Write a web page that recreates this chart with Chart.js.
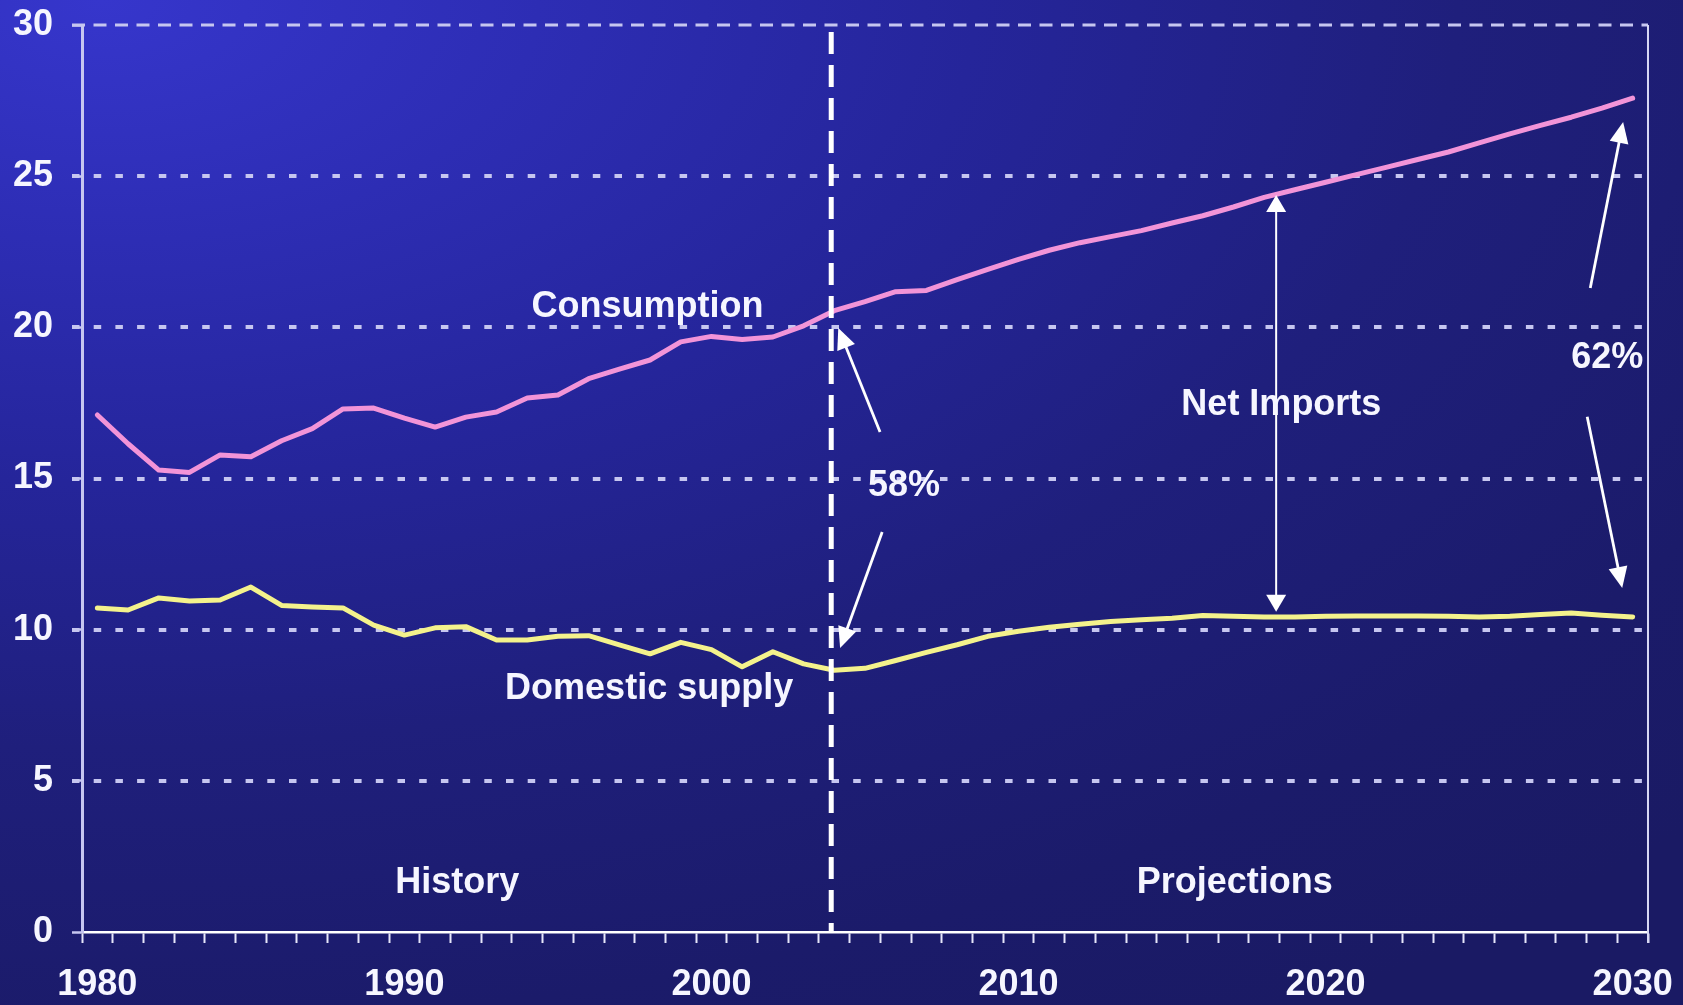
<!DOCTYPE html>
<html><head><meta charset="utf-8">
<script src="https://cdn.jsdelivr.net/npm/chart.js@4.4.0/dist/chart.umd.min.js"></script>
<style>
html,body{margin:0;padding:0;width:1683px;height:1005px;overflow:hidden;}
body{background: radial-gradient(ellipse 130% 120% at 6% 0%, #3636cc 0%, #2d2db4 20%, #25259a 40%, #1f1f7c 62%, #1b1b6a 85%, #1a1a64 100%);}
canvas{display:block;}
</style></head><body>
<canvas id="c" width="1683" height="1005"></canvas>
<script>
// ---- data ----
const years = [1980,1981,1982,1983,1984,1985,1986,1987,1988,1989,
  1990,1991,1992,1993,1994,1995,1996,1997,1998,1999,
  2000,2001,2002,2003,2004,2005,2006,2007,2008,2009,
  2010,2011,2012,2013,2014,2015,2016,2017,2018,2019,
  2020,2021,2022,2023,2024,2025,2026,2027,2028,2029,2030];
const consumption = [17.1,16.15,15.28,15.2,15.78,15.72,16.25,16.65,17.3,17.33,
  17.0,16.7,17.03,17.2,17.66,17.76,18.3,18.62,18.92,19.52,
  19.7,19.6,19.68,20.05,20.55,20.85,21.18,21.22,21.58,21.92,
  22.25,22.55,22.8,23.0,23.2,23.45,23.69,23.98,24.3,24.55,
  24.8,25.05,25.3,25.55,25.8,26.1,26.4,26.68,26.95,27.25,27.58];
const domesticSupply = [10.72,10.65,11.05,10.95,10.98,11.41,10.8,10.75,10.72,10.15,
  9.82,10.06,10.1,9.66,9.66,9.78,9.8,9.5,9.2,9.58,
  9.34,8.77,9.27,8.87,8.66,8.72,8.98,9.25,9.5,9.78,
  9.95,10.08,10.18,10.27,10.33,10.38,10.47,10.44,10.42,10.42,
  10.44,10.45,10.45,10.45,10.44,10.42,10.44,10.5,10.55,10.48,10.42];
const yTickValues = [0,5,10,15,20,25,30];
const xLabelYears = [1980,1990,2000,2010,2020,2030];
const historyEnd = 2003.9;

// annotation anchors in data coordinates (year, value)
const textNotes = [
  {text:'Consumption', at:[1997.92,20.35]},
  {text:'Domestic supply', at:[1997.97,7.71]},
  {text:'Net Imports', at:[2018.56,17.1]},
  {text:'58%', at:[2006.27,14.42]},
  {text:'62%', at:[2029.17,18.66]},
  {text:'History', at:[1991.72,1.29]},
  {text:'Projections', at:[2017.04,1.29]}
];
const arrowNotes = [
  {from:[2005.49,16.54], to:[2004.13,19.98]},
  {from:[2005.56,13.23], to:[2004.19,9.39]},
  {from:[2028.62,21.3], to:[2029.69,26.79]},
  {from:[2028.52,17.04], to:[2029.66,11.38]}
];
const netImportsArrow = {year:2018.39, low:10.59, high:24.38};

const FONT = '"Liberation Sans", Arial, sans-serif';
const TEXT_COLOR = '#f6f6ff';
const GRID_COLOR = '#c6c6f0';

function xPix(chart, yr){ return chart.scales.x.getPixelForValue(yr - years[0]); }
function yPix(chart, v){ return chart.scales.y.getPixelForValue(v); }

function drawHead(ctx, x1, y1, x2, y2, len, half){
  const a = Math.atan2(y2-y1, x2-x1);
  ctx.beginPath();
  ctx.moveTo(x2, y2);
  ctx.lineTo(x2 - len*Math.cos(a) + half*Math.sin(a), y2 - len*Math.sin(a) - half*Math.cos(a));
  ctx.lineTo(x2 - len*Math.cos(a) - half*Math.sin(a), y2 - len*Math.sin(a) + half*Math.cos(a));
  ctx.closePath();
  ctx.fill();
}
function drawArrow(ctx, x1, y1, x2, y2, lw, len, half){
  const a = Math.atan2(y2-y1, x2-x1);
  ctx.lineWidth = lw;
  ctx.beginPath();
  ctx.moveTo(x1, y1);
  ctx.lineTo(x2 - (len-2)*Math.cos(a), y2 - (len-2)*Math.sin(a));
  ctx.stroke();
  drawHead(ctx, x1, y1, x2, y2, len, half);
}

const backPlugin = {
  id:'back',
  beforeDatasetsDraw(chart){
    const ctx = chart.ctx, ca = chart.chartArea;
    ctx.save();
    ctx.strokeStyle = GRID_COLOR;
    // dotted grid lines
    ctx.lineWidth = 4;
    ctx.setLineDash([7.5, 14.2]);
    yTickValues.forEach(v => {
      if (v === 0 || v === 30) return;
      const y = Math.round(yPix(chart, v));
      ctx.beginPath(); ctx.moveTo(ca.left - 10, y); ctx.lineTo(ca.right, y); ctx.stroke();
    });
    // top dashed line
    ctx.lineWidth = 3;
    ctx.setLineDash([13, 8.5]);
    const yt = Math.round(yPix(chart, 30));
    ctx.beginPath(); ctx.moveTo(ca.left - 10, yt); ctx.lineTo(ca.right, yt); ctx.stroke();
    // right border
    ctx.setLineDash([]);
    ctx.lineWidth = 2;
    ctx.strokeStyle = '#d8d8f4';
    ctx.beginPath(); ctx.moveTo(ca.right, yt); ctx.lineTo(ca.right, ca.bottom + 11); ctx.stroke();
    ctx.restore();
  },
  afterDatasetsDraw(chart){
    const ctx = chart.ctx, ca = chart.chartArea;
    ctx.save();
    // history / projections divider
    const xv = xPix(chart, historyEnd);
    ctx.strokeStyle = '#ffffff';
    ctx.lineWidth = 5;
    ctx.setLineDash([22, 11]);
    ctx.beginPath(); ctx.moveTo(xv, ca.top + 7); ctx.lineTo(xv, ca.bottom); ctx.stroke();
    ctx.setLineDash([]);
    // arrows
    ctx.strokeStyle = '#ffffff';
    ctx.fillStyle = '#ffffff';
    arrowNotes.forEach(a => {
      drawArrow(ctx, xPix(chart, a.from[0]), yPix(chart, a.from[1]),
                xPix(chart, a.to[0]), yPix(chart, a.to[1]), 2.8, 21, 9.5);
    });
    const nx = xPix(chart, netImportsArrow.year);
    const ny1 = yPix(chart, netImportsArrow.low), ny2 = yPix(chart, netImportsArrow.high);
    ctx.lineWidth = 2;
    ctx.beginPath(); ctx.moveTo(nx, ny1 - 15); ctx.lineTo(nx, ny2 + 15); ctx.stroke();
    drawHead(ctx, nx, ny1 - 30, nx, ny1, 17, 10);
    drawHead(ctx, nx, ny2 + 30, nx, ny2, 17, 10);
    // texts
    ctx.fillStyle = TEXT_COLOR;
    ctx.font = 'bold 36px ' + FONT;
    ctx.textAlign = 'center';
    ctx.textBaseline = 'alphabetic';
    textNotes.forEach(t => {
      ctx.fillText(t.text, xPix(chart, t.at[0]), yPix(chart, t.at[1]));
    });
    ctx.restore();
  }
};

new Chart(document.getElementById('c'), {
  type:'line',
  data:{
    labels: years.map(String),
    datasets:[
      {label:'Consumption', data:consumption, borderColor:'#f294d8', borderWidth:5,
       pointRadius:0, tension:0, borderCapStyle:'round', borderJoinStyle:'round', fill:false},
      {label:'Domestic supply', data:domesticSupply, borderColor:'#f4f28c', borderWidth:5,
       pointRadius:0, tension:0, borderCapStyle:'round', borderJoinStyle:'round', fill:false}
    ]
  },
  options:{
    responsive:false, animation:false, devicePixelRatio:1,
    layout:{padding:{top:25, right:35, left:0, bottom:0}},
    plugins:{legend:{display:false}, tooltip:{enabled:false}},
    scales:{
      x:{
        type:'category', offset:true,
        grid:{display:true, offset:true, drawOnChartArea:false, drawTicks:true,
              tickLength:11, tickColor:'#e6e6fa', tickWidth:2},
        border:{display:true, color:'#ffffff', width:2.5},
        ticks:{autoSkip:false, maxRotation:0, minRotation:0, padding:20, color:TEXT_COLOR,
               font:{family:FONT, size:36, weight:'bold'},
               callback:function(v, i){ const y = years[i]; return xLabelYears.includes(y) ? String(y) : ''; }},
        afterFit(s){ s.height = 73; s.paddingLeft = 0; s.paddingRight = 0; s.paddingTop = 0; s.paddingBottom = 0; }
      },
      y:{
        min:0, max:30,
        afterBuildTicks(s){ s.ticks = yTickValues.map(v => ({value:v})); },
        grid:{display:true, drawOnChartArea:false, drawTicks:true, tickLength:10,
              tickColor:GRID_COLOR, tickWidth:2.5},
        border:{display:true, color:GRID_COLOR, width:3},
        ticks:{padding:19, color:TEXT_COLOR, font:{family:FONT, size:36, weight:'bold'}},
        afterFit(s){ s.width = 82; s.paddingTop = 0; s.paddingBottom = 0; s.paddingLeft = 0; s.paddingRight = 0; }
      }
    }
  },
  plugins:[backPlugin]
});
</script>
</body></html>
